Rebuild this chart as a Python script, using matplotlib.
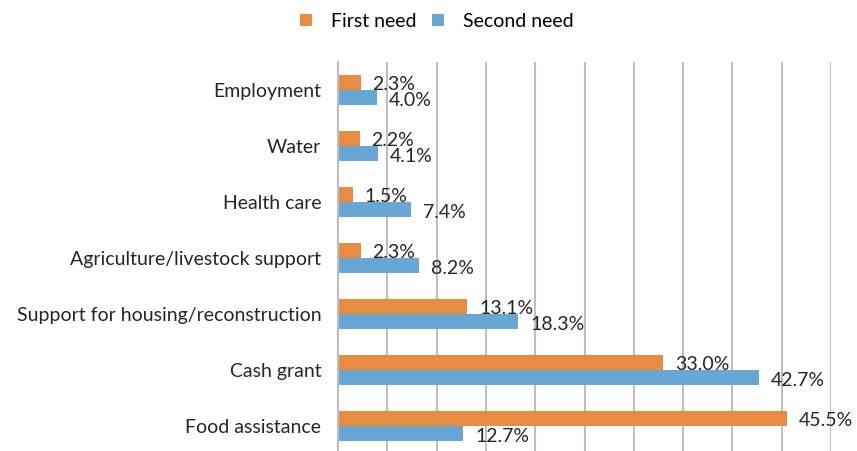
import matplotlib.pyplot as plt
import numpy as np

plt.rcParams["font.family"] = ["Lato", "DejaVu Sans"]

categories = [
    "Food assistance",
    "Cash grant",
    "Support for housing/reconstruction",
    "Agriculture/livestock support",
    "Health care",
    "Water",
    "Employment",
]
first_need = [45.5, 33.0, 13.1, 2.3, 1.5, 2.2, 2.3]
second_need = [12.7, 42.7, 18.3, 8.2, 7.4, 4.1, 4.0]

orange = "#E98C43"
blue = "#6AA6D3"
grid_col = "#BFBFBF"

fig = plt.figure(figsize=(8.57, 4.51), dpi=100)
ax = fig.add_axes([338 / 857, 0.0, 493 / 857, (451 - 62) / 451])

y = np.arange(len(categories))
h = 0.27
ax.barh(y + h / 2, first_need, height=h, color=orange, label="First need", zorder=2)
ax.barh(y - h / 2, second_need, height=h, color=blue, label="Second need", zorder=2)

for yi, v in zip(y, first_need):
    ax.text(v + 1.2, yi + h / 2 - 0.03, f"{v:.1f}%", va="center", ha="left",
            fontsize=14, color="#262626")
for yi, v in zip(y, second_need):
    ax.text(v + 1.2, yi - h / 2 - 0.05, f"{v:.1f}%", va="center", ha="left",
            fontsize=14, color="#262626")

ax.set_xlim(0, 50)
ax.set_ylim(-0.446, 6.5)
ax.set_xticks(np.arange(5, 51, 5))
ax.set_xticklabels([])
ax.tick_params(axis="x", length=0)
ax.set_yticks(y)
ax.set_yticklabels(categories, fontsize=14, color="#262626")
ax.tick_params(axis="y", length=0, pad=12)
ax.grid(axis="x", color=grid_col, linewidth=1.5, zorder=0)
ax.set_axisbelow(True)
for s in ["top", "right", "bottom"]:
    ax.spines[s].set_visible(False)
ax.spines["left"].set_color(grid_col)
ax.spines["left"].set_linewidth(1.5)

fig.legend(loc="upper center", bbox_to_anchor=(0.51, 1.01), ncol=2, frameon=False,
           fontsize=14, handlelength=0.6, handleheight=0.6, columnspacing=0.8,
           handletextpad=1.0)

plt.savefig("out.png", dpi=100)
